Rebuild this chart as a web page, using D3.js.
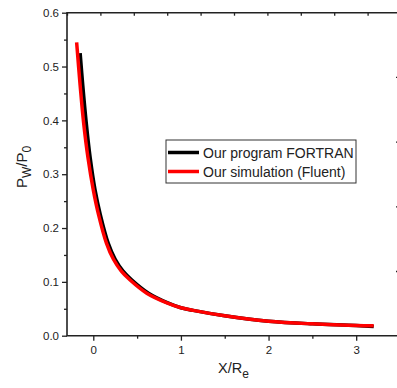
<!DOCTYPE html>
<html>
<head>
<meta charset="utf-8">
<script src="https://cdn.jsdelivr.net/npm/d3@7"></script>
<style>
  body { margin: 0; background: #fff; }
  svg { display: block; }
  text { font-family: "Liberation Sans", Arial, sans-serif; fill: #222; }
</style>
</head>
<body>
<div id="chart"></div>
<script>
// Chart size (same as window)
var width  = 397;
var height = 388;

// Data
var fortranX = [-0.15, -0.12, -0.08, -0.035, 0.02, 0.08, 0.17, 0.25, 0.34, 0.44, 0.63, 0.85, 1.0, 1.14, 1.5, 2.0, 2.5, 3.0, 3.2];
var fortranY = [0.525, 0.465, 0.395, 0.33, 0.271, 0.225, 0.172, 0.142, 0.12, 0.1035, 0.079, 0.061, 0.052, 0.047, 0.037, 0.027, 0.022, 0.019, 0.017];
var fluentX  = [-0.19, -0.15, -0.11, -0.06, 0.0, 0.06, 0.15, 0.23, 0.32, 0.42, 0.61, 0.84, 1.0, 1.14, 1.5, 2.0, 2.5, 3.0, 3.2];
var fluentY  = [0.545, 0.465, 0.395, 0.33, 0.271, 0.225, 0.172, 0.142, 0.12, 0.1035, 0.079, 0.061, 0.052, 0.047, 0.037, 0.027, 0.022, 0.019, 0.0185];
var seriesNames = ["Our program FORTRAN", "Our simulation (Fluent)"];
var seriesColors = ["#000", "#f00"];
var xTicks = [0, 1, 2, 3];
var yTicks = [0.0, 0.1, 0.2, 0.3, 0.4, 0.5, 0.6];

var margin = {left: 67, top: 12.7, right: -3, bottom: 52.3};

var x = d3.scaleLinear()
    .domain([-0.3, 3.5])
    .range([margin.left, width - margin.right]);

var y = d3.scaleLinear()
    .domain([0, 0.6])
    .range([height - margin.bottom, margin.top]);

var svg = d3.select("#chart").append("svg")
    .attr("width", width)
    .attr("height", height);

var axisColor = "#222";

// bottom axis, major + minor ticks
svg.append("g")
    .attr("transform", "translate(0," + y(0) + ")")
    .call(d3.axisBottom(x).tickValues([0.5, 1.5, 2.5]).tickSize(3).tickFormat(""))
    .call(g => g.select(".domain").remove());

svg.append("g")
    .attr("class", "xaxis")
    .attr("transform", "translate(0," + y(0) + ")")
    .call(d3.axisBottom(x).tickValues(xTicks).tickSize(5).tickPadding(5).tickFormat(d3.format("d")))
    .call(g => g.select(".domain").remove());

// left axis
svg.append("g")
    .attr("transform", "translate(" + margin.left + ",0)")
    .call(d3.axisLeft(y).tickValues(d3.range(0.05, 0.6, 0.1)).tickSize(3).tickFormat(""))
    .call(g => g.select(".domain").remove());

svg.append("g")
    .attr("class", "yaxis")
    .attr("transform", "translate(" + margin.left + ",0)")
    .call(d3.axisLeft(y).tickValues(yTicks).tickSize(5).tickPadding(3).tickFormat(d3.format(".1f")))
    .call(g => g.select(".domain").remove());

// top axis, inner ticks on its own spacing
var topScale = d3.scaleLinear().domain([0, 10]).range([margin.left, margin.left + 334]);
svg.append("g")
    .attr("transform", "translate(0," + margin.top + ")")
    .call(d3.axisBottom(topScale).ticks(10).tickSize(3).tickFormat(""))
    .call(g => g.select(".domain").remove());

// right axis, inner ticks (labels off-window)
var rightScale = d3.scaleLinear().domain([0, 5]).range([y(0), y(0) - 5 * 64.7]);
svg.append("g")
    .attr("transform", "translate(" + (width + 1) + ",0)")
    .call(d3.axisRight(rightScale).tickValues([1, 2, 3, 4]).tickSize(-2).tickFormat(""))
    .call(g => g.select(".domain").remove());

svg.selectAll(".tick line").attr("stroke", axisColor).attr("stroke-width", 1.3);
svg.selectAll(".tick text").attr("font-size", "11.5px").attr("fill", axisColor);

// frame
svg.append("path")
    .attr("d", "M" + x.range()[1] + "," + y(0.6) + "H" + margin.left + "V" + y(0) + "H" + x.range()[1])
    .attr("fill", "none")
    .attr("stroke", axisColor)
    .attr("stroke-width", 1.6);

// curves
var line = d3.line()
    .x(d => x(d[0]))
    .y(d => y(d[1]))
    .curve(d3.curveCatmullRom.alpha(0.5));

var series = [d3.zip(fortranX, fortranY), d3.zip(fluentX, fluentY)];

svg.selectAll(".curve")
    .data(series)
    .enter()
    .append("path")
    .attr("class", "curve")
    .attr("d", line)
    .attr("fill", "none")
    .attr("stroke", (d, i) => seriesColors[i])
    .attr("stroke-width", 3.5);

// legend
var legend = svg.append("g").attr("transform", "translate(166,140)");
legend.append("rect")
    .attr("width", 190)
    .attr("height", 43)
    .attr("fill", "#fff")
    .attr("stroke", "#333")
    .attr("stroke-width", 1);

seriesNames.forEach(function(name, i) {
    var ly = 12.5 + i * 19;
    legend.append("line")
        .attr("x1", 2).attr("x2", 33)
        .attr("y1", ly).attr("y2", ly)
        .attr("stroke", seriesColors[i])
        .attr("stroke-width", 3.5);
    legend.append("text")
        .attr("x", 37)
        .attr("y", ly + 5)
        .attr("font-size", "14px")
        .text(name);
});

// axis titles
svg.append("text")
    .attr("x", x(1.6))
    .attr("y", 373)
    .attr("text-anchor", "middle")
    .attr("font-size", "14.5px")
    .html('X/R<tspan dy="5" font-size="12px">e</tspan>');

svg.append("text")
    .attr("transform", "translate(27,167) rotate(-90)")
    .attr("text-anchor", "middle")
    .attr("font-size", "15px")
    .html('P<tspan dy="4" font-size="12px">W</tspan><tspan dy="-4">/P</tspan><tspan dy="4" font-size="12px">0</tspan>');
</script>
</body>
</html>
